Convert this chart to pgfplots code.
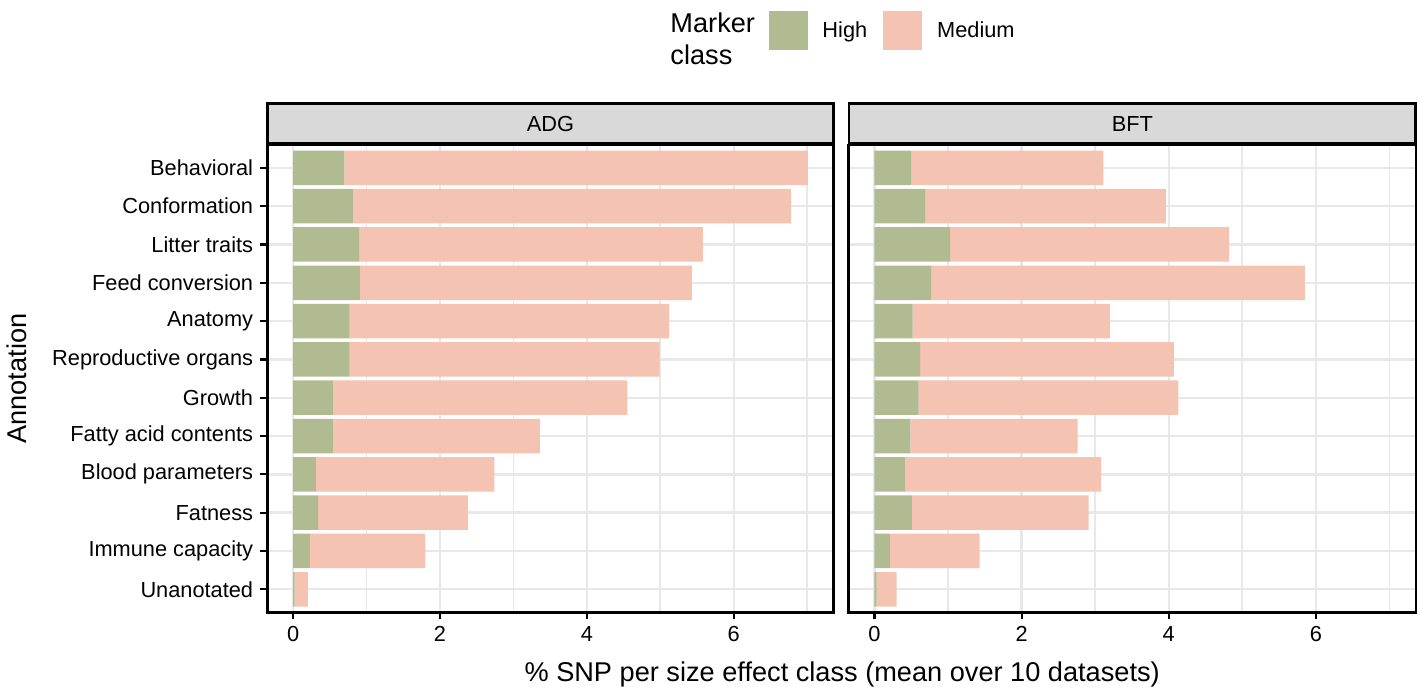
\documentclass[border=0pt]{standalone}
\usepackage{fontspec}
\setmainfont{Liberation Sans}
\usepackage{pgfplots}
\usepackage{pgfplotstable}
\pgfplotsset{compat=1.18}

\definecolor{hi}{RGB}{176,187,146}
\definecolor{med}{RGB}{244,195,177}
\definecolor{gridc}{RGB}{232,232,232}
\definecolor{strip}{RGB}{217,217,217}

% y: 12 = Behavioral (top) ... 1 = Unanotated (bottom)
\pgfplotstableread{
y  high medium
12 0.70 6.31
11 0.82 5.96
10 0.90 4.68
9  0.91 4.52
8  0.77 4.35
7  0.77 4.22
6  0.55 4.00
5  0.55 2.81
4  0.31 2.43
3  0.34 2.04
2  0.23 1.57
1  0.02 0.18
}\adg

\pgfplotstableread{
y  high medium
12 0.50 2.61
11 0.69 3.27
10 1.03 3.79
9  0.77 5.08
8  0.52 2.68
7  0.62 3.45
6  0.60 3.53
5  0.49 2.27
4  0.42 2.66
3  0.51 2.40
2  0.21 1.22
1  0.03 0.27
}\bft

\newcommand{\smallf}{\fontsize{10.9}{13}\selectfont}
\newcommand{\bigf}{\fontsize{13.6}{15.8}\selectfont}

\pgfplotsset{
  keybox/.style={legend image code/.code={\fill[##1] (0pt,-9.5pt) rectangle (19.5pt,10pt);}},
  panel/.style={
    scale only axis, height=234pt,
    xbar stacked, bar width=0.9,
    xmin=-0.35, xmax=7.36, ymin=0.4, ymax=12.6,
    xtick={0,2,4,6}, minor xtick={1,3,5,7}, ytick={1,...,12},
    xmajorgrids, xminorgrids, ymajorgrids,
    major grid style={gridc, line width=1.2pt},
    minor grid style={gridc, line width=0.9pt},
    axis line style={black, line width=1.3pt},
    tick align=outside, major tick length=3.6pt, minor tick length=0pt,
    tick style={black, line width=1.1pt},
    xtick pos=bottom, ytick pos=left,
    tick label style={font=\smallf},
    /pgf/number format/assume math mode=true,
    every axis title/.style={at={(axis description cs:0.5,1)}, anchor=south,
      fill=strip, draw=black, line width=1.3pt, minimum width=283.5pt,
      minimum height=20pt, inner sep=0pt, font=\smallf},
  },
}

\begin{document}
\begin{tikzpicture}
\path (0pt,0pt) rectangle (710pt,-344.5pt);

\begin{axis}[panel, width=283.5pt,
  at={(133pt,-306.5pt)}, anchor=south west,
  title={ADG},
  yticklabels={Unanotated, Immune capacity, Fatness, Blood parameters,
    Fatty acid contents, Growth, Reproductive organs, Anatomy,
    Feed conversion, Litter traits, Conformation, Behavioral},
  ylabel={Annotation},
  ylabel style={at={(axis description cs:-0.4427,0.5)}, anchor=center, font=\bigf},
  xlabel={\% SNP per size effect class (mean over 10 datasets)},
  xlabel style={at={(axis description cs:1.015,-0.1325)}, anchor=center, font=\bigf},
  legend style={draw=none, fill=none, at={(axis description cs:0.885,1.286)},
    anchor=north west, legend columns=2, inner sep=0pt, outer sep=0pt,
    font=\smallf, nodes={inner sep=0pt},
    /tikz/every odd column/.append style={column sep=7.5pt},
    /tikz/every even column/.append style={column sep=8pt}},
]
\addplot[fill=hi, draw=none, keybox] table[x=high, y=y] {\adg};
\addplot[fill=med, draw=none, keybox] table[x=medium, y=y] {\adg};
\legend{High, Medium}
\end{axis}

\begin{axis}[panel, width=284pt,
  at={(424pt,-306.5pt)}, anchor=south west,
  title={BFT},
  yticklabels={}, ytick style={draw=none},
]
\addplot[fill=hi, draw=none] table[x=high, y=y] {\bft};
\addplot[fill=med, draw=none] table[x=medium, y=y] {\bft};
\end{axis}

\node[anchor=north west, align=left, inner sep=0pt, font=\bigf] at (334.6pt,-6.2pt) {Marker\\class};
\end{tikzpicture}
\end{document}
